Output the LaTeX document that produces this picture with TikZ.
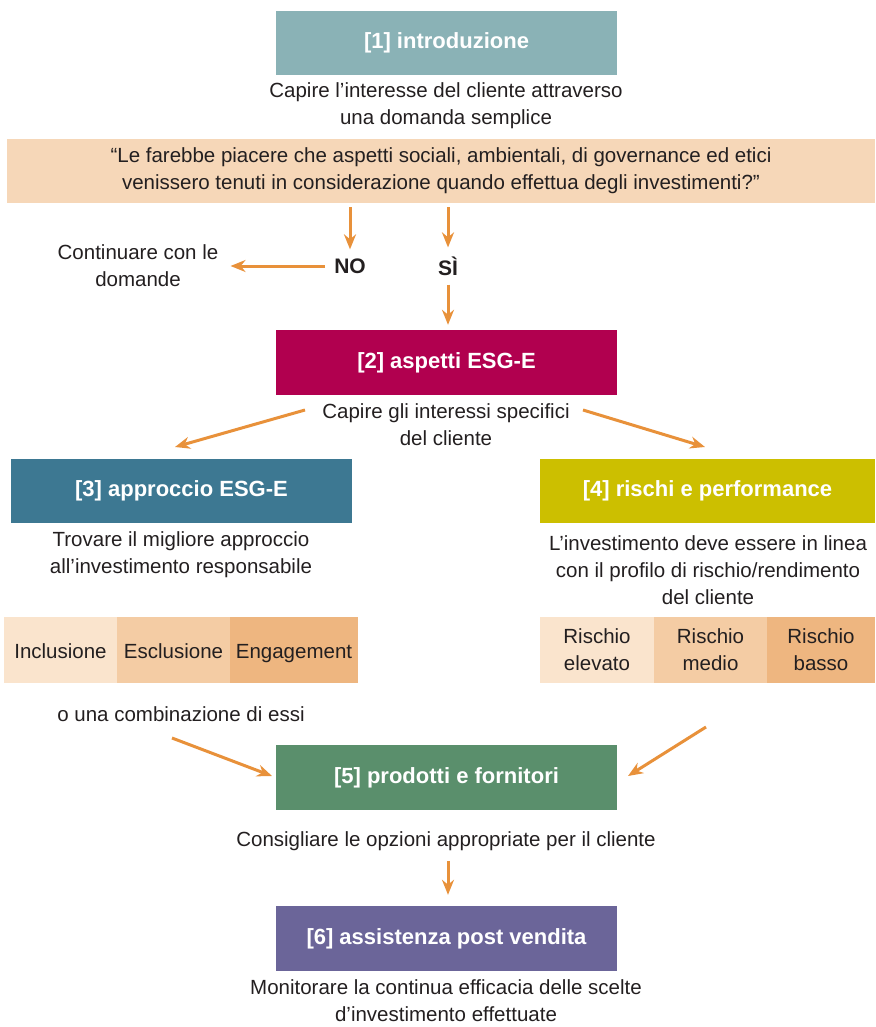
\documentclass[tikz,border=0pt]{standalone}
\usepackage{fontspec}
\setmainfont{Liberation Sans}
\usetikzlibrary{positioning,arrows.meta}

\definecolor{introC}{HTML}{8AB2B6}
\definecolor{bandC}{HTML}{F6D7B8}
\definecolor{esgC}{HTML}{B1004F}
\definecolor{approcC}{HTML}{3D7892}
\definecolor{rischiC}{HTML}{CCBF00}
\definecolor{prodC}{HTML}{5A8F6C}
\definecolor{postC}{HTML}{6B6599}
\definecolor{arrC}{HTML}{E8913A}
\definecolor{lightC}{HTML}{FAE4CD}
\definecolor{midC}{HTML}{F4CCA4}
\definecolor{darkC}{HTML}{EEB680}
\definecolor{inkC}{HTML}{231F20}

\begin{document}
\begin{tikzpicture}
  [x=1pt,y=-1pt,
   box/.style={fill=#1,minimum width=341pt,minimum height=64pt,
      inner sep=0pt,text=white,font=\fontsize{22}{26}\selectfont\bfseries},
   txt/.style={align=center,inner sep=0pt,text=inkC,
      font=\fontsize{20.5}{27}\selectfont},
   cell/.style={fill=#1,minimum height=66pt,inner sep=0pt,align=center,
      text=inkC,font=\fontsize{20.5}{27}\selectfont,
      execute at begin node=\rule{0pt}{26pt},execute at end node=\strut},
   risk/.style={label={[txt]center:Rischio\\#1}},
   yn/.style={inner sep=0pt,text=inkC,font=\fontsize{21}{26}\selectfont\bfseries},
   arr/.style={draw=arrC,line width=3pt,-{Stealth[length=15pt,width=12pt]}}]
  \useasboundingbox (0,0) rectangle (875,1027);

  % step 1
  \node[box=introC] (intro) at (446.5,43) {[1] introduzione};
  \node[txt] (capire) at (446,106)
    {Capire l’interesse del cliente attraverso\\una domanda semplice};
  \node[fill=bandC,minimum width=868pt,minimum height=64pt,inner sep=0pt,
    txt] (domanda) at (441,171)
    {“Le farebbe piacere che aspetti sociali, ambientali, di governance ed etici\\
     venissero tenuti in considerazione quando effettua degli investimenti?”};
  \node[yn] (no) at (350,266) {NO};
  \node[yn] (si) at (448,266) {SÌ};
  \node[txt] (continua) at (138,266) {Continuare con le\\domande};

  % step 2
  \node[box=esgC,minimum height=65pt] (esg) at (446.5,362.5) {[2] aspetti ESG-E};
  \node[txt] (interessi) at (446,425) {Capire gli interessi specifici\\del cliente};

  % steps 3 and 4
  \node[box=approcC] (approccio) at (181.5,491) {[3] approccio ESG-E};
  \node[box=rischiC,minimum width=335pt] (rischi) at (707.5,491) {[4] rischi e performance};
  \node[txt] (trovare) at (181,555)
    {Trovare il migliore approccio\\all’investimento responsabile};
  \node[txt] (linea) at (708,570)
    {L’investimento deve essere in linea\\con il profilo di rischio/rendimento\\del cliente};

  \node[cell=lightC,minimum width=113pt] (incl) at (60.5,650) {Inclusione};
  \node[cell=midC,minimum width=113pt] (escl) at (173.5,650) {Esclusione};
  \node[cell=darkC,minimum width=128pt] (eng) at (294,650) {Engagement};
  \node[cell=lightC,minimum width=114pt,risk=elevato] (elev) at (597,650) {};
  \node[cell=midC,minimum width=113pt,risk=medio] (medio) at (710.5,650) {};
  \node[cell=darkC,minimum width=108pt,risk=basso] (basso) at (821,650) {};
  \node[txt] (combi) at (181,714) {o una combinazione di essi};

  % steps 5 and 6
  \node[box=prodC,minimum height=65pt] (prodotti) at (446.5,777.5) {[5] prodotti e fornitori};
  \node[txt] (consigli) at (446,841) {Consigliare le opzioni appropriate per il cliente};
  \node[box=postC,minimum height=65pt] (post) at (446.5,938.5) {[6] assistenza post vendita};
  \node[txt] (monitor) at (446,1001)
    {Monitorare la continua efficacia delle scelte\\d’investimento effettuate};

  % arrows
  \coordinate (b3) at (305,410);
  \coordinate (a3) at (175,447);
  \coordinate (b4) at (583,410);
  \coordinate (a4) at (705,447);
  \coordinate (b5l) at (172,738);
  \coordinate (a5l) at (272,776);
  \coordinate (b5r) at (706,727);
  \coordinate (a5r) at (628,776);
  \draw[arr] ([yshift=-4pt]domanda.south -| no.north) -- ([yshift=9pt]no.north);
  \draw[arr] ([yshift=-4pt]domanda.south -| si.north) -- ([yshift=9pt]si.north);
  \draw[arr] ([xshift=-9pt]no.west) -- ([xshift=12pt]continua.east);
  \draw[arr] ([yshift=-9pt]si.south) -- ([yshift=5pt]si.south |- esg.north);
  \draw[arr] (b3) -- (a3);
  \draw[arr] (b4) -- (a4);
  \draw[arr] (b5l) -- (a5l);
  \draw[arr] (b5r) -- (a5r);
  \draw[arr] ([yshift=-10pt]consigli.south -| si.south) -- ([yshift=11pt]si.south |- post.north);
\end{tikzpicture}
\end{document}
